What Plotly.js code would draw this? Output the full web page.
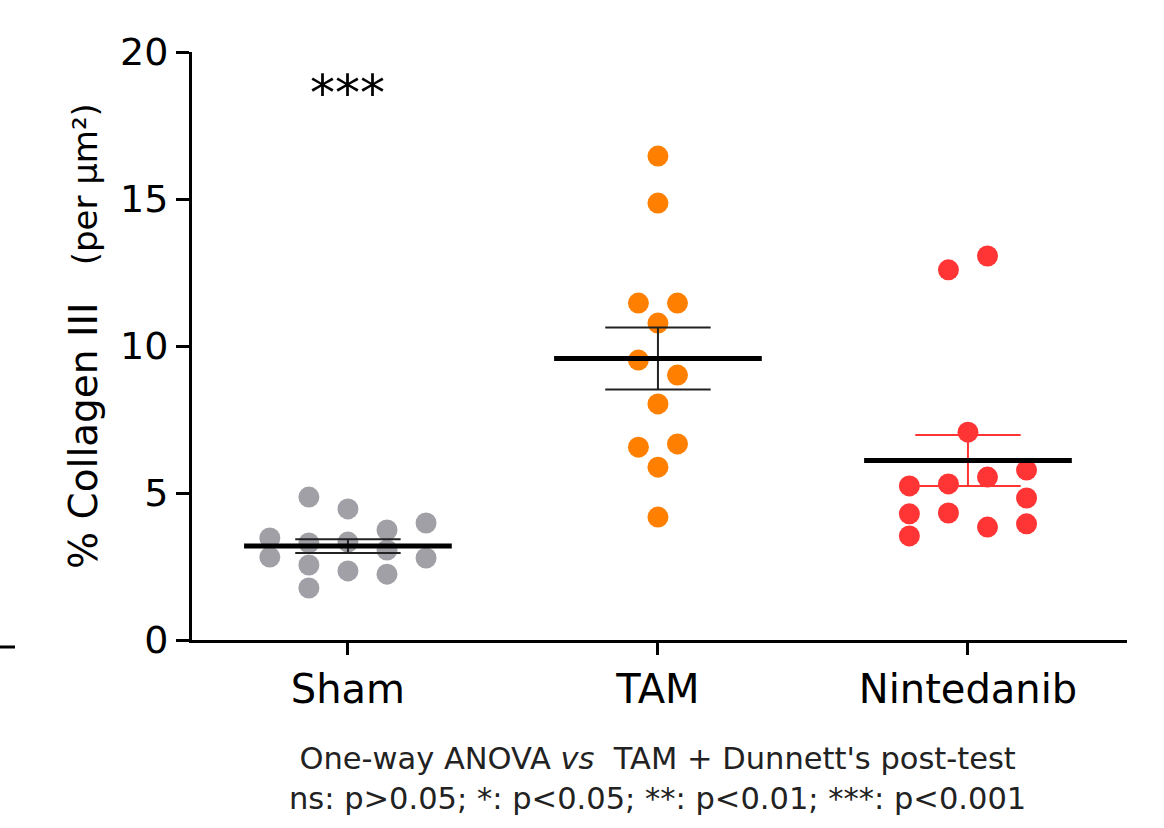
<!DOCTYPE html>
<html>
<head>
<meta charset="utf-8">
<script src="https://cdn.plot.ly/plotly-3.0.1.min.js"></script>
<style>html,body{margin:0;padding:0;background:#fff;}#chart{width:1164px;height:828px;}</style>
</head>
<body>
<div id="chart"></div>
<script>
// ---- data ----
const categories = ["Sham", "TAM", "Nintedanib"];
const shamValues = [3.47, 2.82, 4.86, 3.30, 2.55, 1.77, 4.46, 3.33, 2.35, 3.74, 3.06, 2.24, 3.98, 2.79];
const tamValues = [16.46, 14.86, 11.46, 11.46, 10.78, 9.52, 9.01, 8.03, 6.56, 6.67, 5.88, 4.18];
const nintedanibValues = [5.24, 4.29, 3.54, 12.59, 5.31, 4.32, 7.07, 13.06, 5.54, 3.84, 5.78, 4.83, 3.95];
// swarm column of each point (in half-marker steps)
const shamSwarm = [-4, -4, -2, -2, -2, -2, 0, 0, 0, 2, 2, 2, 4, 4];
const tamSwarm = [0, 0, -1, 1, 0, -1, 1, 0, -1, 1, 0, 0];
const nintedanibSwarm = [-3, -3, -3, -1, -1, -1, 0, 1, 1, 1, 3, 3, 3];
const yTicks = [0, 5, 10, 15, 20];
const significance = ["***", "", ""];

// ---- styles ----
const colors = ["#a0a0a6", "#ff8000", "#ff3535"];
const semColors = ["#222222", "#222222", "#ff3535"];
const FONT = "DejaVu Sans, Verdana, sans-serif";
const step = 0.063, meanHalf = 0.335, capHalf = 0.17;

const groups = [shamValues, tamValues, nintedanibValues];
const swarms = [shamSwarm, tamSwarm, nintedanibSwarm];

function mean(a){return a.reduce((s,v)=>s+v,0)/a.length;}
function sem(a){const m=mean(a);const sd=Math.sqrt(a.reduce((s,v)=>s+(v-m)*(v-m),0)/(a.length-1));return sd/Math.sqrt(a.length);}

const traces = [];
groups.forEach((vals, i) => {
  traces.push({
    type: "scatter", mode: "markers",
    x: vals.map((v, k) => i + swarms[i][k] * step),
    y: vals,
    marker: {color: colors[i], size: 21, line: {width: 0}},
    hoverinfo: "y", showlegend: false
  });
});
groups.forEach((vals, i) => {
  const m = mean(vals), s = sem(vals);
  traces.push({
    type: "scatter", mode: "lines",
    x: [i - capHalf, i + capHalf, null, i - capHalf, i + capHalf, null, i, i],
    y: [m + s, m + s, null, m - s, m - s, null, m + s, m - s],
    line: {color: semColors[i], width: 2},
    hoverinfo: "skip", showlegend: false
  });
  traces.push({
    type: "scatter", mode: "lines",
    x: [i - meanHalf, i + meanHalf], y: [m, m],
    line: {color: "#000", width: 5},
    hoverinfo: "skip", showlegend: false
  });
});

const annotations = significance.map((t, i) => ({
  x: i, y: 18.6, xref: "x", yref: "y", text: t, showarrow: false,
  font: {family: FONT, size: 50, color: "#000"}
})).filter(a => a.text);

annotations.push({
  xref: "paper", yref: "paper", x: 0.498, y: -0.168, yanchor: "top",
  text: "One-way ANOVA <i>vs</i>  TAM + Dunnett's post-test<br>ns: p>0.05; *: p<0.05; **: p<0.01; ***: p<0.001",
  showarrow: false, align: "center",
  font: {family: FONT, size: 30.5, color: "#222"}
});

// y-axis title
annotations.push({
  xref: "paper", yref: "paper", x: (83 - 192) / 935, y: (640 - 336) / 588,
  xanchor: "center", yanchor: "middle", textangle: -90, showarrow: false,
  text: "% Collagen III &nbsp;&nbsp;<span style='font-size:34px'>(per μm²)</span>",
  font: {family: FONT, size: 39, color: "#000"}
});

const layout = {
  width: 1164, height: 828,
  margin: {l: 192, r: 37, t: 52, b: 188},
  paper_bgcolor: "#fff", plot_bgcolor: "#fff",
  showlegend: false,
  font: {family: FONT, color: "#000"},
  xaxis: {
    range: [-0.503, 2.513], tickvals: [0, 1, 2], ticktext: categories,
    showgrid: false, zeroline: false, showline: true, linecolor: "#000", linewidth: 3,
    ticks: "outside", ticklen: 12, tickwidth: 3, tickcolor: "#000",
    tickfont: {family: FONT, size: 40, color: "#000"}
  },
  yaxis: {
    range: [0, 20], tickvals: yTicks,
    showgrid: false, zeroline: false, showline: true, linecolor: "#000", linewidth: 3,
    ticks: "outside", ticklen: 13, tickwidth: 3, tickcolor: "#000",
    tickfont: {family: FONT, size: 38, color: "#000"}
  },
  annotations: annotations,
  shapes: [{type: "line", xref: "paper", yref: "paper", x0: -192/935, x1: -177/935, y0: -7/588, y1: -7/588,
            line: {color: "#000", width: 3}}]
};

Plotly.newPlot("chart", traces, layout, {displayModeBar: false, staticPlot: true});
</script>
</body>
</html>
